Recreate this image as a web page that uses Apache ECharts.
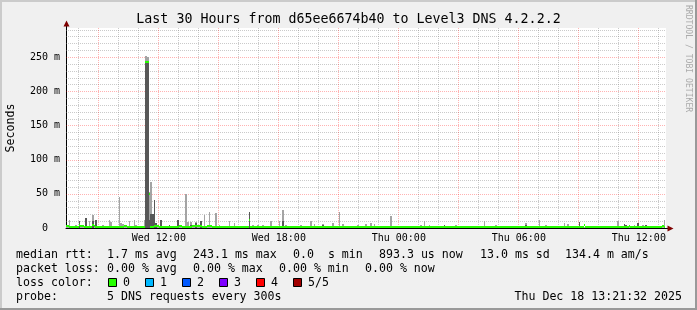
<!DOCTYPE html>
<html><head><meta charset="utf-8">
<script src="https://cdn.jsdelivr.net/npm/echarts@6/dist/echarts.min.js"></script>
<style>html,body{margin:0;padding:0;background:#f0f0f0}#c{width:697px;height:310px}</style>
</head><body><div id="c"></div>
<script>
// ---- time axis (hours counted from Wed 00:00) ----
const START_H = 7 + 21/60 + 32/3600;          // Wed 07:21:32
const END_H = START_H + 30;                    // Thu 13:21:32
const FIRST_STEP_H = 7 + 20/60;                // first 5-min interval: Wed 07:20
const STEP_H = 5/60;
const Y_MAX = 292.4;                           // ms

const xLabelHours = [12, 18, 24, 30, 36];
const xLabels = ['Wed 12:00', 'Wed 18:00', 'Thu 00:00', 'Thu 06:00', 'Thu 12:00'];
const majorHours = [9, 12, 15, 18, 21, 24, 27, 30, 33, 36];
const minorHours = [8,10,11,13,14,16,17,19,20,22,23,25,26,28,29,31,32,34,35,37];
const yMinorTicks = [10,20,30,40,60,70,80,90,110,120,130,140,160,170,180,190,210,220,230,240,260,270,280,290];
const yMajorTicks = [0, 50, 100, 150, 200, 250];
const yLabels = ['0  ', '50 m', '100 m', '150 m', '200 m', '250 m'];

// ---- per 5-minute step values (ms) ----
// outer smoke (max ping)
const smokeMax = [
 2,2,12,2,2,2,5,2,10,2,2,2,15,2,10,2,19,2,11,2,
 2,2,4,2,2,2,12,9,2,2,3,2,46,7,6,2,2,2,10,2,
 2,12,4,2,2,2,2,12,252,250,52,67,20,41,7,2,2,12,2,2,
 2,2,4,2,3,2,2,11,2,5,2,2,50,9,2,9,2,2,9,2,
 2,10,2,19,2,2,24,2,2,2,22,2,4,2,2,3,2,2,10,2,
 2,7,2,2,2,3,2,2,2,2,23,2,4,2,2,4,2,2,4,2,
 2,2,2,10,2,2,2,2,10,2,27,2,5,2,2,2,2,2,2,2,
 2,4,2,2,2,2,2,10,2,6,2,2,2,2,6,2,2,2,2,2,
 7,2,2,2,24,2,6,2,2,2,2,2,2,2,2,4,2,2,2,2,
 6,2,2,8,2,6,2,2,2,2,2,2,3,2,2,18,3,2,2,2,
 2,2,2,2,2,2,2,2,2,2,2,2,2,5,2,10,2,2,5,2,
 2,3,2,2,2,2,2,4,2,2,2,2,2,2,5,2,2,2,2,2,
 2,2,3,2,2,2,2,2,2,2,2,10,2,2,2,2,2,2,4,2,
 2,2,2,2,2,2,2,3,2,2,2,3,2,2,2,2,7,2,2,2,
 2,2,2,2,11,2,2,2,4,2,2,2,2,2,3,2,2,2,2,7,
 2,6,2,2,2,2,2,2,9,2,2,2,2,2,2,2,2,2,2,2,
 2,3,2,2,2,2,2,2,3,2,2,10,2,2,2,6,5,2,2,2,
 2,4,2,8,2,2,5,2,5,2,2,2,2,2,2,2,2,2,2,11
];
// inner smoke (2nd..4th ping)
const smokeInner = [
 0,0,0,0,0,0,0,0,10,0,0,0,15,0,0,0,10,0,11,0,
 0,0,0,0,0,0,0,0,0,0,0,0,0,0,0,0,0,0,0,0,
 0,0,0,0,0,0,0,0,244,243,12,20,20,41,7,0,0,12,0,0,
 0,0,4,0,0,0,0,11,0,0,0,0,0,0,0,5,0,0,8,0,
 0,10,0,0,0,0,0,0,0,0,0,0,0,0,0,0,0,0,0,0,
 0,0,0,0,0,0,0,0,0,0,23,0,0,0,0,0,0,0,0,0,
 0,0,0,0,0,0,0,0,0,0,10,0,0,0,0,0,0,0,0,0,
 0,0,0,0,0,0,0,0,0,0,0,0,0,0,5,0,0,0,0,0,
 0,0,0,0,0,0,0,0,0,0,0,0,0,0,0,0,0,0,0,0,
 0,0,0,0,0,0,0,0,0,0,0,0,0,0,0,0,0,0,0,0,
 0,0,0,0,0,0,0,0,0,0,0,0,0,0,0,0,0,0,0,0,
 0,0,0,0,0,0,0,4,0,0,0,0,0,0,0,0,0,0,0,0,
 0,0,0,0,0,0,0,0,0,0,0,0,0,0,0,0,0,0,0,0,
 0,0,0,0,0,0,0,0,0,0,0,0,0,0,0,0,5,0,0,0,
 0,0,0,0,0,0,0,0,0,0,0,0,0,0,0,0,0,0,0,0,
 0,0,0,0,0,0,0,0,9,0,0,0,0,0,0,0,0,0,0,0,
 0,0,0,0,0,0,0,0,0,0,0,0,0,0,0,6,5,0,0,0,
 0,0,0,8,0,0,0,0,5,0,0,0,0,0,0,0,0,0,0,0
];
// median rtt (0 % loss)
const medianRtt = [
 2.2,2.2,2,1.8,1.8,1.6,1.8,2,4,2.5,2.5,2,1.8,1.8,2,2,5,2.5,2,1.8,
 1.8,1.8,2,2,1.8,1.6,1.6,1.8,2,2,1.8,1.6,1.6,1.8,2,2.5,2.5,2,1.8,1.6,
 1.6,1.8,1.8,1.6,1.6,1.6,1.6,1.8,243,243,50,2,2,2.5,2.5,2.5,2,1.8,1.8,1.6,
 1.6,1.6,1.8,1.8,1.6,1.6,1.8,2,2.5,2.5,2,1.8,1.6,1.6,1.8,2,2.5,2.5,2.5,2.5,
 2.5,2.5,2,1.8,1.8,2.5,2.5,2.5,2,1.8,1.6,1.6,1.6,1.8,1.8,1.6,1.6,1.6,1.8,1.8,
 1.8,1.6,1.6,1.6,1.6,1.8,1.8,1.6,1.6,1.6,11,1.8,1.6,1.6,1.6,1.6,1.6,1.6,1.6,1.6,
 1.6,1.6,1.6,1.6,1.6,1.6,1.6,1.6,1.6,1.6,1.6,1.6,1.6,1.6,1.6,1.6,1.6,1.6,1.6,1.6,
 1.6,1.6,1.6,1.6,1.6,1.6,1.6,1.6,1.6,1.6,1.6,1.6,1.6,1.6,1.6,1.6,1.6,1.6,1.6,1.6,
 1.6,1.6,1.6,1.6,1.6,1.6,1.6,1.6,1.6,1.6,1.6,1.6,1.6,1.6,1.6,1.6,1.6,1.6,1.6,1.6,
 1.6,1.6,1.6,1.6,1.6,1.6,1.6,1.6,1.6,1.6,1.6,1.6,1.6,1.6,1.6,1.6,1.6,1.6,1.6,1.6,
 1.6,1.6,1.6,1.6,1.6,1.6,1.6,1.6,1.6,1.6,1.6,1.6,1.6,1.6,1.6,1.6,1.6,1.6,1.6,1.6,
 1.6,1.6,1.6,1.6,1.6,1.6,1.6,1.6,1.6,1.6,1.6,1.6,1.6,1.6,1.6,1.6,1.6,1.6,1.6,1.6,
 1.6,1.6,1.6,1.6,1.6,1.6,1.6,1.6,1.6,1.6,1.6,1.6,1.6,1.6,1.6,1.6,1.6,1.6,1.6,1.6,
 1.6,1.6,1.6,1.6,1.6,1.6,1.6,1.6,1.6,1.6,1.6,1.6,1.6,1.6,1.6,1.6,1.6,1.6,1.6,1.6,
 1.6,1.6,1.6,1.6,1.6,1.6,1.6,1.6,1.6,1.6,1.6,1.6,1.6,1.6,1.6,1.6,1.6,1.6,1.6,1.6,
 1.6,1.6,1.6,1.6,1.6,1.6,1.6,1.6,1.6,1.6,1.6,5,1.6,1.6,1.6,1.6,1.6,1.6,1.6,1.6,
 1.6,1.6,1.6,1.6,1.6,1.6,1.6,1.6,1.6,1.6,1.6,1.6,1.6,1.6,1.6,1.6,1.6,1.6,3,1.6,
 1.6,1.6,1.6,1.6,1.6,1.6,1.6,1.6,1.6,1.6,1.6,1.6,1.6,1.6,1.6,1.6,1.6,1.6,3,1.6
];

// ---- texts ----
const titleText = 'Last 30 Hours from d65ee6674b40 to Level3 DNS 4.2.2.2';
const yName = 'Seconds';
const watermark = 'RRDTOOL / TOBI OETIKER';
const row1 = ['median rtt:', '1.7 ms avg', '243.1 ms max', '0.0  s min', '893.3 us now', '13.0 ms sd', '134.4 m am/s'];
const row2 = ['packet loss:', '0.00 % avg', '0.00 % max', '0.00 % min', '0.00 % now'];
const row3Label = 'loss color:';
const lossLabels = ['0', '1', '2', '3', '4', '5/5'];
const lossColors = ['#26ff00', '#00b8ff', '#0059ff', '#7e00ff', '#ff0000', '#a10000'];
const row4 = ['probe:', '5 DNS requests every 300s'];
const stamp = 'Thu Dec 18 13:21:32 2025';

// ---- build ----
const MONO = 'DejaVu Sans Mono';
const stepTime = i => FIRST_STEP_H + i * STEP_H;
const outerData = smokeMax.map((v, i) => [stepTime(i), 0, v]);
const innerData = smokeInner.map((v, i) => [stepTime(i), 0, v]).filter(d => d[2] > 0);
const medData = medianRtt.map((v, i) => [stepTime(i), v]);

function barItem(color) {
  return function (params, api) {
    const t = api.value(0), lo = api.value(1), hi = api.value(2);
    const a = api.coord([t, hi]), b = api.coord([t + STEP_H, lo]);
    const x0 = Math.round(a[0]), x1 = Math.max(Math.round(b[0]), x0 + 1);
    const y0 = Math.round(a[1]), y1 = Math.round(b[1]);
    return {type: 'rect', shape: {x: x0, y: y0, width: x1 - x0, height: y1 - y0}, style: {fill: color}};
  };
}
function medItem(params, api) {
  const t = api.value(0), m = api.value(1);
  const a = api.coord([t, m]), b = api.coord([t + STEP_H, m]);
  const x0 = Math.round(a[0]), x1 = Math.max(Math.round(b[0]), x0 + 1);
  return {type: 'rect', shape: {x: x0, y: Math.round(a[1]) - 1, width: x1 - x0, height: 2}, style: {fill: lossColors[0]}};
}
// crisp dotted grid lines, positioned by the axes' scales
function vLineItem(color) {
  return function (params, api) {
    const cs = params.coordSys;
    const p = api.coord([api.value(0), 0]);
    const x = Math.floor(p[0]) + 0.5;
    return {type: 'line', shape: {x1: x, y1: cs.y, x2: x, y2: cs.y + cs.height},
      style: {stroke: color, lineWidth: 1, lineDash: [1, 1]}};
  };
}
function hLineItem(color) {
  return function (params, api) {
    const cs = params.coordSys;
    const p = api.coord([START_H, api.value(1)]);
    const y = Math.round(p[1]) + 0.5;
    return {type: 'line', shape: {x1: cs.x, y1: y, x2: cs.x + cs.width, y2: y},
      style: {stroke: color, lineWidth: 1, lineDash: [1, 1]}};
  };
}
const GRID_C = 'rgba(128,128,128,0.42)';
const MGRID_C = 'rgba(255,0,0,0.3)';

const graphics = [];
// frame
graphics.push({type: 'rect', shape: {x: 0, y: 0, width: 697, height: 2}, style: {fill: '#cbcbcb'}, silent: true});
graphics.push({type: 'rect', shape: {x: 0, y: 0, width: 2, height: 310}, style: {fill: '#cbcbcb'}, silent: true});
graphics.push({type: 'rect', shape: {x: 0, y: 308, width: 697, height: 2}, style: {fill: '#999999'}, silent: true});
graphics.push({type: 'rect', shape: {x: 695, y: 0, width: 2, height: 310}, style: {fill: '#999999'}, silent: true});
// title
graphics.push({type: 'text', x: 348.5, y: 19.5, style: {text: titleText, font: '13.3px "' + MONO + '"', fill: '#000', align: 'center', verticalAlign: 'middle'}});
// y name
graphics.push({type: 'text', x: 11, y: 128, rotation: Math.PI / 2, style: {text: yName, font: '11.6px "' + MONO + '"', fill: '#000', align: 'center', verticalAlign: 'middle'}});
// watermark
graphics.push({type: 'text', x: 688, y: 5, rotation: -Math.PI / 2, style: {text: watermark, font: '8.1px "' + MONO + '"', fill: '#aaaaaa', align: 'left', verticalAlign: 'middle'}});
// axis arrows
graphics.push({type: 'line', shape: {x1: 66.5, y1: 28, x2: 66.5, y2: 25}, style: {stroke: '#000', lineWidth: 1}, z: 20});
graphics.push({type: 'polygon', shape: {points: [[66.5, 20.5], [63.5, 26.5], [69.5, 26.5]]}, style: {fill: '#7f0000'}, z: 20});
graphics.push({type: 'line', shape: {x1: 666, y1: 228.5, x2: 668, y2: 228.5}, style: {stroke: '#000', lineWidth: 1}, z: 20});
graphics.push({type: 'polygon', shape: {points: [[667.5, 225.5], [673.5, 228.5], [667.5, 231.5]]}, style: {fill: '#7f0000'}, z: 20});

// legend
const LF = '11.6px "' + MONO + '"';
function txt(x, y, s) { graphics.push({type: 'text', x: x, y: y, style: {text: s, font: LF, fill: '#000', align: 'left', verticalAlign: 'middle'}}); }
const r1x = [16, 107, 193, 293, 379, 480, 565];
row1.forEach((s, i) => txt(r1x[i], 254.5, s));
const r2x = [16, 107, 193, 279, 365];
row2.forEach((s, i) => txt(r2x[i], 268.5, s));
txt(16, 282.5, row3Label);
const boxX = [108, 145, 182, 219, 256, 293];
lossLabels.forEach((s, i) => {
  graphics.push({type: 'rect', shape: {x: boxX[i] + 0.5, y: 278.5, width: 8, height: 8}, style: {fill: lossColors[i], stroke: '#000', lineWidth: 1}});
  txt(boxX[i] + 15, 282.5, s);
});
txt(16, 296.5, row4[0]);
txt(107, 296.5, row4[1]);
graphics.push({type: 'text', x: 682, y: 296.5, style: {text: stamp, font: LF, fill: '#000', align: 'right', verticalAlign: 'middle'}});

const chart = echarts.init(document.getElementById('c'), null, {renderer: 'canvas'});
chart.setOption({
  backgroundColor: '#f0f0f0',
  animation: false,
  grid: {left: 66, top: 28, width: 600, height: 200, show: true, backgroundColor: '#ffffff', borderWidth: 0},
  xAxis: [
    {type: 'value', min: START_H, max: END_H, position: 'bottom', z: 10,
     axisLine: {show: true, onZero: false, lineStyle: {color: '#000', width: 1}}, axisTick: {show: false},
     axisLabel: {show: true, customValues: xLabelHours, margin: 5, fontFamily: MONO, fontSize: 10, color: '#000',
       formatter: v => { const k = xLabelHours.indexOf(Math.round(v)); return k >= 0 ? xLabels[k] : ''; }},
     splitLine: {show: false}}
  ],
  yAxis: [
    {type: 'value', min: 0, max: Y_MAX, position: 'left',
     axisLine: {show: true, onZero: false, lineStyle: {color: '#000', width: 1}},
     axisTick: {show: false},
     axisLabel: {show: true, customValues: yMajorTicks, margin: 6, fontFamily: MONO, fontSize: 10, color: '#000',
       formatter: v => { const k = yMajorTicks.indexOf(Math.round(v)); return k >= 0 ? yLabels[k] : ''; }},
     splitLine: {show: false}}
  ],
  series: [
    {type: 'custom', name: 'hour grid', silent: true, z: 1, data: minorHours.map(h => [h, 0]), renderItem: vLineItem(GRID_C)},
    {type: 'custom', name: 'ms grid', silent: true, z: 1, data: yMinorTicks.map(v => [START_H, v]), renderItem: hLineItem(GRID_C)},
    {type: 'custom', name: 'major hour grid', silent: true, z: 1, data: majorHours.map(h => [h, 0]), renderItem: vLineItem(MGRID_C)},
    {type: 'custom', name: 'major ms grid', silent: true, z: 1, data: yMajorTicks.slice(1).map(v => [START_H, v]), renderItem: hLineItem(MGRID_C)},
    {type: 'custom', name: 'smoke outer', clip: true, data: outerData, renderItem: barItem('#a4a4a4'), z: 2},
    {type: 'custom', name: 'smoke inner', clip: true, data: innerData, renderItem: barItem('#585858'), z: 3},
    {type: 'custom', name: 'median', clip: true, data: medData, renderItem: medItem, z: 4}
  ],
  graphic: graphics
});
</script></body></html>
